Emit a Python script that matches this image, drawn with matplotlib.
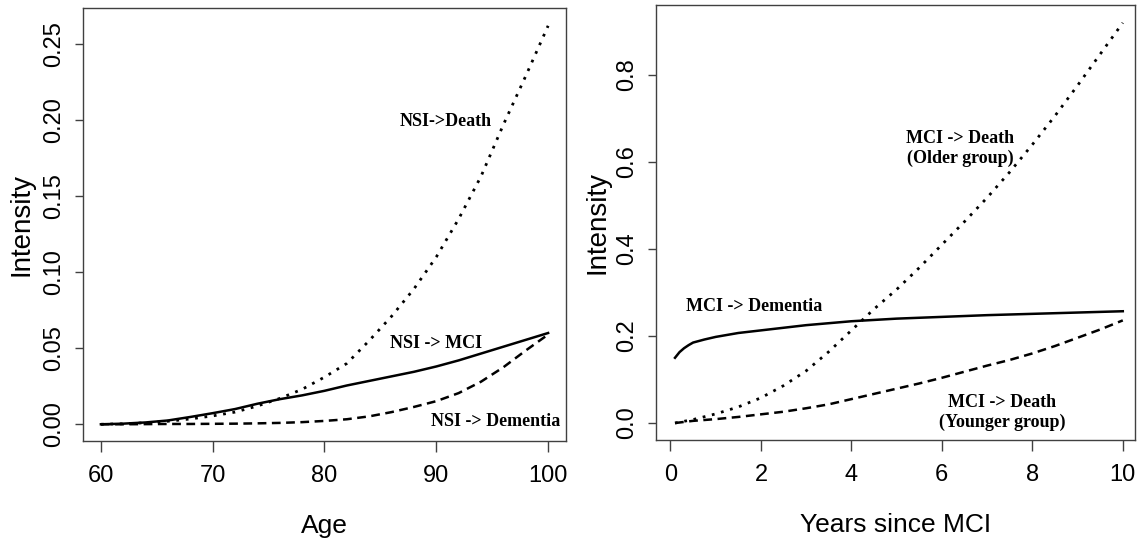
import matplotlib
matplotlib.use("Agg")
import matplotlib.pyplot as plt
from matplotlib import font_manager

# transition intensities from NSI (no structural impairment), by age
age = [60, 62, 64, 66, 68, 70, 72, 74, 76, 78, 80, 82, 84, 86, 88, 90, 92, 94, 96, 98, 100]
nsi_death = [0.0, 0.0003, 0.001, 0.002, 0.0035, 0.0055, 0.008, 0.012, 0.017, 0.023, 0.031,
             0.040, 0.055, 0.071, 0.089, 0.110, 0.135, 0.163, 0.197, 0.229, 0.262]
nsi_mci = [0.0, 0.0004, 0.0012, 0.0025, 0.0048, 0.0073, 0.0100, 0.0135, 0.0165, 0.019, 0.022,
           0.0255, 0.0285, 0.0315, 0.0345, 0.038, 0.042, 0.0465, 0.051, 0.0555, 0.060]
nsi_dementia = [0.0, 0.0, 0.0001, 0.0002, 0.0002, 0.0003, 0.0004, 0.0006, 0.0009, 0.0014, 0.0022,
                0.0033, 0.0052, 0.0080, 0.0114, 0.0152, 0.0205, 0.028, 0.0375, 0.0485, 0.059]

# transition intensities from MCI, by years since MCI
years_dem = [0.1, 0.2, 0.3, 0.4, 0.5, 0.75, 1, 1.5, 2, 3, 4, 5, 6, 7, 8, 9, 10]
mci_dementia = [0.150, 0.163, 0.172, 0.179, 0.185, 0.192, 0.198, 0.207, 0.213, 0.225, 0.234,
                0.240, 0.244, 0.248, 0.251, 0.254, 0.257]
years = [0.1, 0.5, 1, 1.5, 2, 2.5, 3, 3.5, 4, 4.5, 5, 5.5, 6, 6.5, 7, 7.5, 8, 8.5, 9, 9.5, 10]
mci_death_old = [0.0, 0.008, 0.021, 0.037, 0.058, 0.086, 0.120, 0.164, 0.213, 0.262, 0.307,
                 0.357, 0.410, 0.463, 0.518, 0.577, 0.640, 0.706, 0.776, 0.848, 0.920]
mci_death_young = [0.0, 0.005, 0.009, 0.014, 0.020, 0.026, 0.034, 0.043, 0.055, 0.067, 0.079,
                   0.091, 0.104, 0.118, 0.132, 0.145, 0.160, 0.177, 0.196, 0.215, 0.236]

age_ticks = [60, 70, 80, 90, 100]
nsi_yticks = [0.00, 0.05, 0.10, 0.15, 0.20, 0.25]
year_ticks = [0, 2, 4, 6, 8, 10]
mci_yticks = [0.0, 0.2, 0.4, 0.6, 0.8]


def pick_font(names):
    for n in names:
        try:
            font_manager.findfont(n, fallback_to_default=False)
            return n
        except ValueError:
            pass
    return "DejaVu Sans"


SANS = pick_font(["Liberation Sans", "Arial", "DejaVu Sans"])
SERIF = pick_font(["Liberation Serif", "Times New Roman", "DejaVu Serif"])

DOTTED = (0, (1, 2.4))
DASHED = (0, (3.5, 2.2))


def style_axes(ax, xticks, yticks, yfmt, xlabel, ylabel_x):
    for s in ax.spines.values():
        s.set_color("#404040")
        s.set_linewidth(1.0)
    ax.set_xticks(xticks)
    ax.set_xticklabels([str(t) for t in xticks], fontsize=17, family=SANS)
    ax.set_yticks(yticks)
    ax.set_yticklabels([yfmt.format(t) for t in yticks], fontsize=17, family=SANS,
                       rotation=90, va="center")
    ax.tick_params(axis="x", length=8, width=1, color="#404040", pad=9)
    ax.tick_params(axis="y", length=6, width=1, color="#404040", pad=7)
    ax.set_xlabel(xlabel, fontsize=19, family=SANS)
    ax.xaxis.label.set_va("center")
    ax.xaxis.set_label_coords(0.5, -0.196)
    ax.set_ylabel("Intensity", fontsize=20, family=SANS)
    ax.yaxis.label.set_va("center")
    ax.yaxis.set_label_coords(ylabel_x, 0.5)


def main():
    fig = plt.figure(figsize=(11.44, 5.44), dpi=100)
    lab = dict(family=SERIF, fontweight="bold", fontsize=13, ha="center", va="center")

    # left: intensities out of NSI
    ax1 = fig.add_axes([0.07255, 0.18934, 0.42220, 0.79596])
    ax1.plot(age, nsi_death, color="black", lw=2.0, linestyle=DOTTED)
    ax1.plot(age, nsi_mci, color="black", lw=1.8)
    ax1.plot(age, nsi_dementia, color="black", lw=1.8, linestyle=DASHED)
    ax1.set_xlim(58.4, 101.6)
    ax1.set_ylim(-0.011, 0.2737)
    ax1.text(90.8, 0.199, "NSI->Death", **lab)
    ax1.text(90.0, 0.053, "NSI -> MCI", **lab)
    ax1.text(95.3, 0.002, "NSI -> Dementia", **lab)
    style_axes(ax1, age_ticks, nsi_yticks, "{:.2f}", "Age", -0.128)

    # right: intensities out of MCI
    ax2 = fig.add_axes([0.57343, 0.19118, 0.41871, 0.79963])
    ax2.plot(years, mci_death_old, color="black", lw=2.0, linestyle=DOTTED)
    ax2.plot(years_dem, mci_dementia, color="black", lw=1.8)
    ax2.plot(years, mci_death_young, color="black", lw=1.8, linestyle=DASHED)
    ax2.set_xlim(-0.32, 10.27)
    ax2.set_ylim(-0.039, 0.961)
    ax2.text(1.85, 0.267, "MCI -> Dementia", **lab)
    ax2.text(6.40, 0.631, "MCI -> Death\n(Older group)", linespacing=1.2, **lab)
    ax2.text(7.33, 0.025, "MCI -> Death\n(Younger group)", linespacing=1.2, **lab)
    style_axes(ax2, year_ticks, mci_yticks, "{:.1f}", "Years since MCI", -0.123)

    fig.savefig("out.png", dpi=100)


if __name__ == "__main__":
    main()
